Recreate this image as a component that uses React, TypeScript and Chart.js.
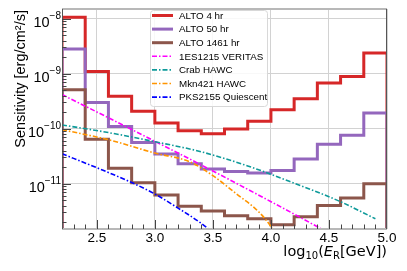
import React, { useEffect, useRef } from "react";
import { Chart, registerables } from "chart.js";

Chart.register(...registerables);

// ---- data ----
const binEdges = [2.2, 2.4, 2.6, 2.8, 3.0, 3.2, 3.4, 3.6, 3.8, 4.0, 4.2, 4.4, 4.6, 4.8, 5.0];
const alto4hr = [1.06e-8, 1.1e-9, 3.9e-10, 2.07e-10, 1.27e-10, 9.2e-11, 8.1e-11, 9.9e-11, 1.36e-10, 2.2e-10, 3.5e-10, 6.8e-10, 8.9e-10, 2.38e-9];
const alto50hr = [2.8e-9, 3.0e-10, 1.1e-10, 5.6e-11, 3.45e-11, 2.3e-11, 1.85e-11, 1.67e-11, 1.56e-11, 1.73e-11, 2.8e-11, 5.2e-11, 7.6e-11, 1.93e-10];
const alto1461hr = [5.1e-10, 6.4e-11, 1.9e-11, 1.04e-11, 6.2e-12, 3.9e-12, 3.2e-12, 2.6e-12, 2.3e-12, 1.8e-12, 2.5e-12, 4.0e-12, 5.5e-12, 1.0e-11];

const veritasE = [2.2, 2.6, 3.0, 3.4, 3.8, 4.2, 4.5];
const veritasS = [4.17e-10, 1.58e-10, 5.9e-11, 2.19e-11, 7.9e-12, 2.8e-12, 1.26e-12];
const crabE = [2.2, 2.6, 3.0, 3.4, 3.8, 4.2, 4.6, 4.9];
const crabS = [1.17e-10, 8.5e-11, 5.8e-11, 3.8e-11, 2.1e-11, 1.02e-11, 4.7e-12, 2.3e-12];
const mknE = [2.2, 2.6, 3.0, 3.3, 3.5, 3.7, 3.9, 4.0, 4.05];
const mknS = [9.6e-11, 6.3e-11, 3.6e-11, 2.5e-11, 1.4e-11, 6.6e-12, 3.0e-12, 1.66e-12, 1.1e-12];
const pksE = [2.2, 2.5, 2.8, 3.0, 3.2, 3.4, 3.5];
const pksS = [3.5e-11, 1.95e-11, 1.05e-11, 6.5e-12, 3.6e-12, 1.9e-12, 1.3e-12];

const xTicks = [2.5, 3.0, 3.5, 4.0, 4.5, 5.0];
const yTicks = [1e-11, 1e-10, 1e-9, 1e-8];
const yTickExponents = ["\u221211", "\u221210", "\u22129", "\u22128"];
const yMin = 1.5e-12;
const yMax = 1.5e-8;
const histFloor = 1e-13;

const seriesLabels = ["ALTO 4 hr", "ALTO 50 hr", "ALTO 1461 hr", "1ES1215 VERITAS", "Crab HAWC", "Mkn421 HAWC", "PKS2155 Quiescent"];

function histPoints(edges: number[], vals: number[]) {
  const pts = [{ x: edges[0], y: histFloor }];
  vals.forEach((v, i) => pts.push({ x: edges[i], y: v }));
  pts.push({ x: edges[edges.length - 1], y: vals[vals.length - 1] });
  pts.push({ x: edges[edges.length - 1], y: histFloor });
  return pts;
}
function curvePoints(xs: number[], ys: number[]) {
  return xs.map((x, i) => ({ x, y: ys[i] }));
}

const DASHDOT = [5, 2, 1.5, 2];

const decorPlugin = {
  id: "decor",
  afterDraw(chart: any) {
    const ctx = chart.ctx;
    const { left, right, top, bottom } = chart.chartArea;
    const xs = chart.scales.x;
    const ys = chart.scales.y;
    ctx.save();

    // spines
    ctx.strokeStyle = "#b8b8b8";
    ctx.lineWidth = 2;
    ctx.beginPath();
    ctx.moveTo(left, top);
    ctx.lineTo(right, top);
    ctx.moveTo(left, bottom);
    ctx.lineTo(right, bottom);
    ctx.stroke();
    ctx.strokeStyle = "#555";
    ctx.lineWidth = 1;
    ctx.beginPath();
    ctx.moveTo(Math.round(left) + 0.5, top);
    ctx.lineTo(Math.round(left) + 0.5, bottom);
    ctx.moveTo(Math.round(right) - 0.5, top);
    ctx.lineTo(Math.round(right) - 0.5, bottom);
    ctx.stroke();

    // x ticks (inward)
    ctx.strokeStyle = "#444";
    ctx.lineWidth = 1;
    ctx.beginPath();
    for (let k = 23; k < 50; k++) {
      const v = k / 10;
      const px = Math.round(xs.getPixelForValue(v)) + 0.5;
      const major = xTicks.some((t) => Math.abs(t - v) < 1e-6);
      ctx.moveTo(px, bottom);
      ctx.lineTo(px, bottom - (major ? 9 : 4.5));
    }
    // y ticks (inward)
    for (let e = -12; e <= -8; e++) {
      for (let m = 1; m <= 9; m++) {
        const v = m * Math.pow(10, e);
        if (v < yMin || v > yMax) continue;
        const py = Math.round(ys.getPixelForValue(v)) + 0.5;
        ctx.moveTo(left, py);
        ctx.lineTo(left + (m === 1 ? 9 : 4.5), py);
      }
    }
    ctx.stroke();

    // y tick labels 10^k
    ctx.fillStyle = "#000";
    ctx.textBaseline = "alphabetic";
    yTicks.forEach((v, i) => {
      const py = ys.getPixelForValue(v);
      const exp = yTickExponents[i];
      ctx.font = "10px 'Liberation Sans', Arial, sans-serif";
      const ew = ctx.measureText(exp).width;
      ctx.textAlign = "right";
      const xr = left - 1;
      ctx.fillText(exp, xr, py);
      ctx.font = "14.5px 'Liberation Sans', Arial, sans-serif";
      ctx.fillText("10", xr - ew, py + 8.5);
    });

    // y axis title (top aligned)
    ctx.save();
    ctx.translate(25, top + 1);
    ctx.rotate(-Math.PI / 2);
    ctx.textAlign = "right";
    ctx.font = "14.5px 'Liberation Sans', Arial, sans-serif";
    ctx.fillText("Sensitivity [erg/cm\u00b2/s]", 0, 0);
    ctx.restore();

    // x axis title (right aligned)
    const parts = [
      { t: "log", f: "14.5px 'DejaVu Sans'", dy: 0 },
      { t: "10", f: "10px 'DejaVu Sans'", dy: 3 },
      { t: "(", f: "14.5px 'DejaVu Sans'", dy: 0 },
      { t: "E", f: "italic 14.5px 'DejaVu Sans'", dy: 0 },
      { t: "R", f: "10px 'DejaVu Sans'", dy: 3 },
      { t: "[GeV])", f: "14.5px 'DejaVu Sans'", dy: 0 },
    ];
    ctx.textAlign = "left";
    let total = 0;
    parts.forEach((p) => {
      ctx.font = p.f;
      total += ctx.measureText(p.t).width;
    });
    let cx = right - total;
    const base = 256;
    parts.forEach((p) => {
      ctx.font = p.f;
      ctx.fillText(p.t, cx, base + p.dy);
      cx += ctx.measureText(p.t).width;
    });

    // legend
    const lx = 150, ly = 10, lw = 117, lh = 96;
    ctx.fillStyle = "rgba(255,255,255,0.85)";
    ctx.strokeStyle = "#d8d8d8";
    ctx.lineWidth = 1;
    ctx.beginPath();
    (ctx as any).roundRect(lx + 0.5, ly + 0.5, lw, lh, 3);
    ctx.fill();
    ctx.stroke();
    ctx.font = "9.8px 'Liberation Sans', Arial, sans-serif";
    ctx.textBaseline = "middle";
    chart.data.datasets.forEach((ds: any, i: number) => {
      const yy = 15.5 + i * 13.6;
      ctx.strokeStyle = ds.borderColor;
      ctx.lineWidth = ds.borderWidth;
      ctx.setLineDash(ds.borderDash || []);
      ctx.beginPath();
      ctx.moveTo(152, yy);
      ctx.lineTo(173, yy);
      ctx.stroke();
      ctx.setLineDash([]);
      ctx.fillStyle = "#000";
      ctx.fillText(ds.label, 179, yy + 0.5);
    });

    ctx.restore();
  },
};

export default function App() {
  const ref = useRef<HTMLCanvasElement | null>(null);
  useEffect(() => {
    if (!ref.current) return;
    const hist = (label: string, vals: number[], color: string, idx: number) => ({
      label,
      data: histPoints(binEdges, vals),
      borderColor: color,
      backgroundColor: color,
      borderWidth: 3,
      stepped: "before",
      borderJoinStyle: "miter",
      fill: false,
      pointRadius: 0,
      order: -idx,
    });
    const curve = (label: string, xs: number[], ys: number[], color: string, idx: number) => ({
      label,
      data: curvePoints(xs, ys),
      borderColor: color,
      backgroundColor: color,
      borderWidth: 1.6,
      borderDash: DASHDOT,
      cubicInterpolationMode: "monotone",
      fill: false,
      pointRadius: 0,
      order: -idx,
    });
    const chart = new Chart(ref.current, {
      type: "line",
      data: {
        datasets: [
          hist(seriesLabels[0], alto4hr, "#d62728", 0),
          hist(seriesLabels[1], alto50hr, "#9467bd", 1),
          hist(seriesLabels[2], alto1461hr, "#8c564b", 2),
          curve(seriesLabels[3], veritasE, veritasS, "#ff00ff", 3),
          curve(seriesLabels[4], crabE, crabS, "#0e9a9a", 4),
          curve(seriesLabels[5], mknE, mknS, "#ff9500", 5),
          curve(seriesLabels[6], pksE, pksS, "#0000ff", 6),
        ] as any,
      },
      options: {
        animation: false,
        responsive: false,
        maintainAspectRatio: false,
        devicePixelRatio: 1,
        layout: { padding: { top: 9, right: 20, left: 0, bottom: 0 } },
        plugins: { legend: { display: false }, tooltip: { enabled: false } },
        elements: { point: { radius: 0 } },
        scales: {
          x: {
            type: "linear",
            min: 2.2,
            max: 5.0,
            afterBuildTicks: (s: any) => {
              s.ticks = xTicks.map((v) => ({ value: v }));
            },
            afterFit: (s: any) => {
              s.height = 42;
            },
            grid: { color: "#d2d2d2", lineWidth: 1, drawTicks: false },
            border: { display: false },
            ticks: {
              autoSkip: false,
              maxRotation: 0,
              padding: 1,
              color: "#000",
              font: { family: "'Liberation Sans', Arial, sans-serif", size: 13.5 },
              callback: (v: any) => Number(v).toFixed(1),
            },
          },
          y: {
            type: "logarithmic",
            min: yMin,
            max: yMax,
            afterBuildTicks: (s: any) => {
              s.ticks = yTicks.map((v) => ({ value: v }));
            },
            afterFit: (s: any) => {
              s.width = 62;
            },
            grid: { color: "#d2d2d2", lineWidth: 1, drawTicks: false },
            border: { display: false },
            ticks: { display: false },
          },
        },
      } as any,
      plugins: [decorPlugin],
    });
    return () => chart.destroy();
  }, []);
  return (
    <div style={{ position: "absolute", left: 0, top: 0, width: 407, height: 271, background: "#fff" }}>
      <canvas ref={ref} width={407} height={271} style={{ width: 407, height: 271, display: "block" }} />
    </div>
  );
}
